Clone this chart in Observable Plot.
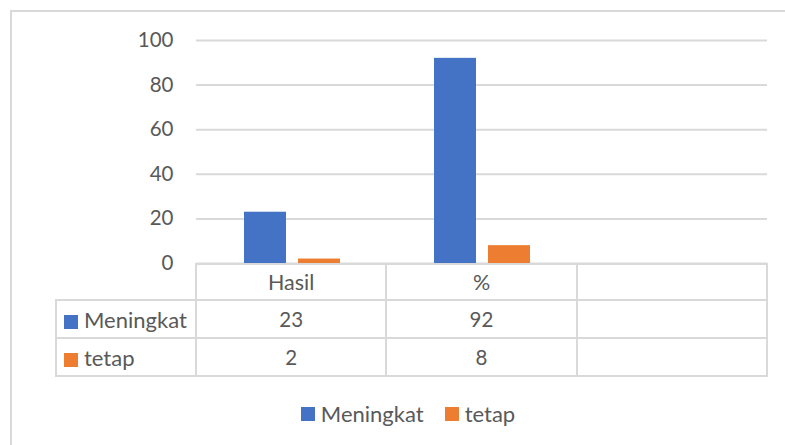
<!DOCTYPE html>
<html>
<head>
<meta charset="utf-8">
<script src="https://cdn.jsdelivr.net/npm/d3@7"></script>
<script src="https://cdn.jsdelivr.net/npm/@observablehq/plot@0.6"></script>
<style>
  html, body { margin: 0; padding: 0; background: #fff; overflow: hidden; }
  #wrap { position: relative; width: 785px; height: 445px; overflow: hidden; background: #fff; font-family: Lato, "Open Sans", sans-serif; color: #595959; }
  #frame { position: absolute; left: 10px; top: 10px; width: 820px; height: 480px; border: 2px solid #d9d9d9; box-sizing: border-box; }
  .layer { position: absolute; left: 0; top: 0; }
  #tbl { position: absolute; left: 55px; top: 263px; border-collapse: collapse; table-layout: fixed; font-size: 20.5px; color: #595959; }
  #tbl td { border: 2px solid #d9d9d9; padding: 0; text-align: center; vertical-align: middle; white-space: nowrap; }
  #tbl td.head { font-size: 21.5px; }
  #tbl td.corner { border-top: none; border-left: none; }
  #tbl td.name { text-align: left; padding-left: 7px; font-size: 22px; }
  .sw { display: inline-block; width: 14px; height: 14px; margin-right: 6px; vertical-align: -1px; }
  #legend { position: absolute; left: 0; width: 816px; top: 400px; display: flex; justify-content: center; gap: 21px; font-size: 22px; color: #595959; }
  #legend .item { display: flex; align-items: center; }
</style>
</head>
<body>
<div id="wrap">
  <div id="frame"></div>
  <div id="gridLayer" class="layer"></div>
  <div id="barLayer" class="layer"></div>
  <table id="tbl"></table>
  <div id="legend"></div>
</div>
<script>
const categories = ["Hasil", "%", ""];
const seriesNames = ["Meningkat", "tetap"];
const meningkat = [23, 92, null];
const tetap = [2, 8, null];
const yTicks = [0, 20, 40, 60, 80, 100];
const seriesColors = ["#4472C4", "#ED7D31"];

const seriesValues = [meningkat, tetap];
const rows = [];
categories.forEach((c, i) => {
  seriesNames.forEach((s, j) => {
    const v = seriesValues[j][i];
    if (v != null) rows.push({category: c, series: s, value: v});
  });
});

const W = 785, H = 270;
const common = {
  width: W, height: H,
  marginLeft: 196, marginRight: 18, marginTop: 40, marginBottom: 7,
  y: {domain: [0, 100], ticks: yTicks}
};

const grid = Plot.plot({
  ...common,
  style: {fontFamily: "Lato, sans-serif", fontSize: "20.5px", color: "#595959", background: "transparent", overflow: "visible"},
  marks: [
    Plot.ruleY(yTicks, {stroke: "#d9d9d9", strokeWidth: 2}),
    Plot.axisY(yTicks, {tickSize: 0, tickPadding: 23, fontSize: 20.5, fill: "#595959", label: null})
  ]
});
document.getElementById("gridLayer").appendChild(grid);

const bars = Plot.plot({
  ...common,
  style: {background: "transparent", overflow: "visible"},
  fx: {domain: categories, padding: 0, axis: null},
  x: {domain: seriesNames, paddingInner: 0.215, paddingOuter: 0.85, axis: null},
  y: {domain: [0, 100], axis: null},
  color: {domain: seriesNames, range: seriesColors},
  marks: [
    Plot.barY(rows, {fx: "category", x: "series", y: "value", fill: "series"})
  ]
});
document.getElementById("barLayer").appendChild(bars);

// data table
const tbl = document.getElementById("tbl");
const cg = document.createElement("colgroup");
[140, 190.33, 190.33, 190.33].forEach(w => {
  const col = document.createElement("col");
  col.style.width = w + "px";
  cg.appendChild(col);
});
tbl.appendChild(cg);
const hr = document.createElement("tr");
const corner = document.createElement("td");
corner.className = "corner";
corner.style.height = "35px";
hr.appendChild(corner);
categories.forEach(c => {
  const td = document.createElement("td");
  td.className = "head";
  td.textContent = c;
  hr.appendChild(td);
});
tbl.appendChild(hr);
seriesNames.forEach((s, j) => {
  const tr = document.createElement("tr");
  const nm = document.createElement("td");
  nm.className = "name";
  nm.style.height = "36px";
  nm.innerHTML = `<span class="sw" style="background:${seriesColors[j]}"></span>`;
  nm.appendChild(document.createTextNode(s));
  tr.appendChild(nm);
  categories.forEach((c, i) => {
    const td = document.createElement("td");
    const v = seriesValues[j][i];
    td.textContent = v == null ? "" : String(v);
    tr.appendChild(td);
  });
  tbl.appendChild(tr);
});

// bottom legend
const lg = document.getElementById("legend");
seriesNames.forEach((s, j) => {
  const it = document.createElement("div");
  it.className = "item";
  it.innerHTML = `<span class="sw" style="background:${seriesColors[j]};vertical-align:0"></span>`;
  it.appendChild(document.createTextNode(s));
  lg.appendChild(it);
});
</script>
</body>
</html>
